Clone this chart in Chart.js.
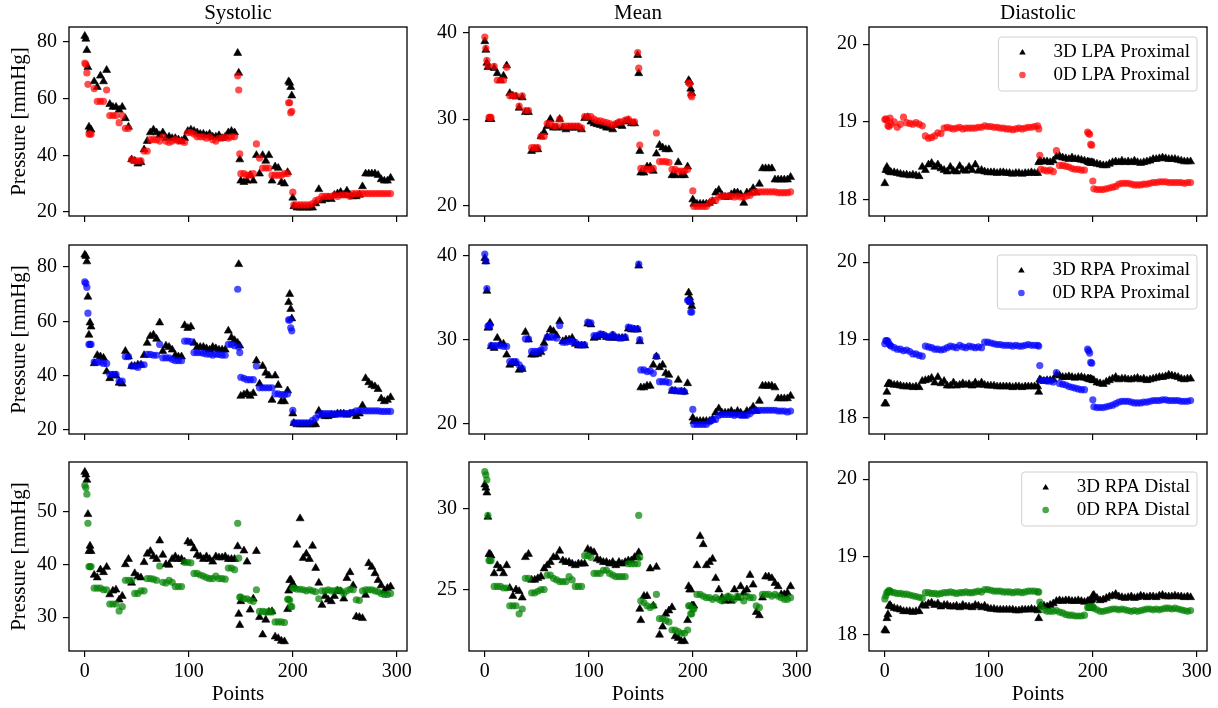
<!DOCTYPE html>
<html>
<head>
<meta charset="utf-8">
<script src="https://cdn.jsdelivr.net/npm/chart.js@4.4.1/dist/chart.umd.min.js"></script>
<style>
    html, body { margin: 0; padding: 0; background: #fff; }
    #fig { position: relative; width: 1218px; height: 708px; overflow: hidden; }
    #fig canvas { position: absolute; }
</style>
</head>
<body>
<div id="fig"></div>
<script>
// x positions (case index) shared by every panel
const points = [
    0, 1, 2, 3, 4, 5, 6,
    9, 12, 15, 18, 21, 24, 27, 30, 33, 36, 39, 42,
    45, 48, 51, 54, 57, 60, 63, 66, 69, 72, 75, 78,
    81, 84, 87, 90, 93, 96, 99, 102, 105, 108, 111, 114,
    117, 120, 123, 126, 129, 132, 135, 138, 141, 144,
    147, 148, 149, 150,
    153, 156, 159, 162, 165, 168, 171, 174, 177, 180, 183, 186, 189, 192, 195,
    196, 197, 198, 199, 200, 201,
    204, 207, 210, 213, 216, 219, 222, 225, 228, 231, 234, 237,
    240, 243, 246, 249, 252, 255, 258, 261, 264, 267, 270, 273,
    276, 279, 282, 285, 288, 291, 294
];

// LPA proximal
const sysLpa3d = [
    82, 81, 77, 71, 50, 49, 49,
    66, 64, 68, 66, 70, 58, 57, 57, 56, 57, 53, 50,
    38.5, 38, 37, 37.5, 42, 45, 48, 49, 48, 47, 48, 46,
    46.5, 46, 46, 45.5, 45, 46, 48.5, 49, 48.5, 48, 47.5, 47.5,
    47, 47.5, 46.5, 46.5, 47, 46, 46.5, 48, 48.5, 48,
    76, 69, 38.5, 31,
    30.5, 31, 33, 31, 40, 33.5, 40, 38, 40, 31, 36, 35.5, 30.5, 30, 34,
    66, 65.5, 64, 61, 25, 22,
    21.5, 21.5, 21.5, 21.5, 21.5, 21.5, 23, 28, 24, 24.5, 25, 24.5,
    26, 26.5, 27, 26, 27.5, 26, 25.5, 25.5, 26, 29, 33.5, 33.5,
    33.5, 33.5, 33, 31.5, 31, 31, 32
];
const sysLpa0d = [
    72.5, 72, 69, 65, 47.5, 47.5, 47.5,
    63.5, 59, 59, 59, 63, 54, 54, 54, 51.5, 54, 49.5, 49.5,
    38.5, 38, 38, 38, 41.5, 41.5, 45.5, 45.5, 45.5, 45, 46.5, 45,
    44.5, 45, 45.5, 45, 45, 44.5, 48, 48, 47.5, 46.5, 46.5, 46.5,
    46, 46.5, 45.5, 45, 46, 46, 46.5, 46, 46.5, 46.5,
    68, 63, 40.5, 33.5,
    33.5, 33, 33, 33.5, 44, 39, 35.5, 35.5, 35.5, 33, 33, 33, 33, 33.5, 33.5,
    58.5, 58.5, 55, 55.5, 27, 22.5,
    22.5, 22.5, 22.5, 22.5, 22.5, 23, 24, 24.5, 25.5, 25.5, 25.5, 25.5,
    26, 25.5, 26, 26, 26, 25.5, 26.5, 26.5, 26.5, 26.5, 26.5, 26.5,
    26.5, 26.5, 26.5, 26.5, 26.5, 26.5, 26.5
];
const meanLpa3d = [
    39, 38, 36.5, 36, 30, 30, 30,
    35.9, 35.3, 34.5, 35, 36.2, 33, 32.7, 32.6, 31.3, 32.5, 30.8, 30.8,
    26.3, 26.5, 26.5, 28, 28.5, 29.2, 30, 29, 29, 30, 29, 28.8,
    29, 29, 29, 29, 28.8, 30.1, 30.2, 29.7, 29.5, 29.4, 29.3, 29.2,
    29, 29, 28.8, 29.3, 29.5, 29.2, 29.7, 29.8, 29.5, 29.5,
    37.4, 35.3, 26.3, 23.8,
    23.8, 24.5, 24.5, 24, 26, 27, 26.7, 26.5, 26.5, 23.5, 23.5, 25, 23.5, 23.5, 24.5,
    34.5, 34.3, 33.5, 33, 20.7, 20.2,
    20.2, 20.2, 20.2, 20.2, 20.3, 20.5, 21.5, 21.8, 21.2, 21, 21, 21.3,
    21.5, 21.5, 21.3, 20.3, 21.5, 21.5, 22, 21.5, 22.5, 24.3, 24.3, 24.3,
    24.3, 23, 23, 23, 23, 23, 23.3
];
const meanLpa0d = [
    39.5, 38.2, 36.8, 36.2, 30.2, 30.2, 30.2,
    36.1, 34.5, 34.5, 34.5, 36, 32.7, 32.7, 32.7, 31.5, 32.7, 31, 31,
    26.7, 26.7, 26.7, 28, 28, 29.5, 29.5, 29.2, 29.2, 30, 29.2, 29.2,
    29.2, 29.2, 29.2, 29.2, 29, 30.3, 30.3, 30.3, 30, 29.8, 29.8, 29.7,
    29.6, 29.5, 29.3, 29.5, 29.7, 29.7, 29.9, 30, 29.7, 29.7,
    37.7, 35.9, 27, 24.3,
    24.3, 24.2, 24.2, 24.3, 28.4, 25.1, 25.1, 25.1, 25, 24.2, 24.2, 24, 24, 24, 24.2,
    34.2, 34.1, 32.8, 32.6, 21.7, 19.9,
    19.9, 19.9, 19.9, 19.9, 20.3, 20.6, 20.6, 21, 21.1, 21.1, 21.1, 21.1,
    21, 21.1, 21, 21, 21.1, 21.2, 21.5, 21.6, 21.6, 21.6, 21.6, 21.6,
    21.6, 21.6, 21.5, 21.5, 21.5, 21.5, 21.6
];
const diaLpa3d = [
    18.21, 18.38, 18.42, 18.38, 18.36, 18.36, 18.35,
    18.35, 18.34, 18.33, 18.32, 18.32, 18.31, 18.32, 18.31, 18.3, 18.42, 18.38, 18.45,
    18.47, 18.42, 18.45, 18.4, 18.38, 18.36, 18.42, 18.37, 18.36, 18.43, 18.38, 18.37,
    18.42, 18.38, 18.45, 18.37, 18.38, 18.36, 18.35, 18.35, 18.35, 18.34, 18.35, 18.35,
    18.34, 18.34, 18.33, 18.34, 18.34, 18.33, 18.34, 18.34, 18.35, 18.34,
    18.34, 18.48, 18.5, 18.49,
    18.49, 18.49, 18.48, 18.5, 18.55, 18.56, 18.54, 18.53, 18.52, 18.54, 18.52, 18.52, 18.51, 18.5, 18.49,
    18.48, 18.48, 18.47, 18.48, 18.47, 18.47,
    18.46, 18.45, 18.44, 18.44, 18.46, 18.48, 18.49, 18.48, 18.5, 18.48, 18.49, 18.48,
    18.5, 18.48, 18.47, 18.48, 18.49, 18.5, 18.52, 18.52, 18.53, 18.54, 18.53, 18.52,
    18.52, 18.52, 18.51, 18.5, 18.49, 18.49, 18.49
];
const diaLpa0d = [
    19.03, 19.04, 19.02, 18.95, 18.94, 19.05, 18.97,
    19.0, 18.93, 18.97, 19.06, 18.99, 18.98, 18.97, 18.99, 18.97, 18.95, 18.82, 18.79,
    18.8, 18.82, 18.86, 18.85, 18.92, 18.93, 18.92, 18.91, 18.92, 18.93, 18.91, 18.92,
    18.92, 18.92, 18.92, 18.93, 18.93, 18.95, 18.94, 18.94, 18.93, 18.93, 18.92, 18.92,
    18.91, 18.91, 18.9, 18.91, 18.92, 18.91, 18.92, 18.93, 18.93, 18.94,
    18.95, 18.91, 18.57, 18.39,
    18.38, 18.37, 18.38, 18.36, 18.63, 18.44, 18.44, 18.43, 18.42, 18.4, 18.39, 18.39, 18.38, 18.38, 18.87,
    18.85, 18.84, 18.71, 18.7, 18.24, 18.14,
    18.13, 18.13, 18.13, 18.14, 18.15, 18.16, 18.17, 18.2, 18.21, 18.21, 18.21, 18.2,
    18.19, 18.19, 18.19, 18.2, 18.2, 18.21, 18.22, 18.22, 18.23, 18.23, 18.23, 18.22,
    18.22, 18.22, 18.22, 18.22, 18.21, 18.22, 18.22
];

// RPA proximal
const sysRpa3d = [
    84.5, 84, 82, 69, 55, 59.5, 58,
    44.5, 47.5, 47, 46.5, 41.5, 39, 40, 40, 37.3, 37, 49, 47,
    43.5, 43.5, 44, 44, 47.5, 52, 54.5, 55, 53.5, 59.5, 49, 51,
    50.5, 49.5, 47.5, 47, 47, 58.5, 57.5, 58, 52, 50.5, 50.5, 50.5,
    50, 49.5, 50.5, 50, 49.5, 49.5, 49.5, 56.5, 54, 53,
    52, 81, 51, 32.5,
    33, 33.5, 32.5, 33.5, 45.5, 37, 43.5, 41, 40, 31, 40, 36.5, 30.5, 30.5, 34.5,
    67, 70, 64.5, 61, 26, 22.5,
    22, 22, 22, 22, 22, 22, 22, 27, 25.5, 25, 25, 25.5,
    25.5, 26, 26, 26, 25.5, 26, 26, 25, 26, 29, 39, 37.5,
    36.5, 36, 35, 31.5, 30.5, 31, 32
];
const sysRpa0d = [
    74.5, 74, 72.5, 63, 51.5, 51.5, 51.5,
    45, 45, 45, 44.5, 44.5, 40.5, 40.5, 40.5, 38, 38, 47, 47,
    43.5, 43.5, 43, 44, 44, 47.8, 47.8, 47.5, 47.5, 51.5, 46.5, 46.5,
    46.5, 46, 45.5, 45.5, 45.5, 52.7, 52.7, 52.5, 48.5, 48.5, 48.5, 48.2,
    48, 48, 47.5, 48, 47.8, 47.5, 47.5, 51.5, 51.5, 51,
    71.8, 50.5, 48.5, 39.4,
    39, 38.5, 38.5, 38.5, 43.5, 35.5, 35.5, 35.5, 35.5, 35.5, 33.3, 33.3, 33, 33, 33.3,
    60.5, 60.5, 57.6, 56.5, 27.2, 22.6,
    22.6, 22.6, 22.6, 22.6, 22.6, 23.5, 24.4, 25.5, 26, 26, 26, 26,
    25.8, 26, 25.8, 26, 26, 26.2, 26.5, 27, 27, 27, 27, 27,
    27, 27, 27, 26.8, 26.8, 26.8, 26.8
];
const meanRpa3d = [
    39.7, 39.3, 35.8, 31.4, 31.5, 32, 29.2,
    29, 30.2, 29.5, 29.5, 28.2, 27, 27.2, 27.2, 26.4, 26.5, 30.9, 30,
    28.2, 28.2, 28.3, 28.5, 29.6, 30.3, 31.2, 31, 30.5, 32.2, 29.8, 30,
    30, 30.2, 29.5, 29.3, 29.3, 29.3, 31.9, 31.8, 30.2, 30.3, 30.5, 30.5,
    30.3, 30.2, 30.5, 30.2, 30.2, 30.2, 30.2, 31.3, 31.2, 31.2,
    31.2, 38.8, 29.8, 24.3,
    24.3, 24.5, 24.5, 27, 28, 26.7, 27, 26, 25.8, 23.9, 23.9, 25.2, 23.8, 23.8, 24.8,
    35.6, 35, 34.5, 34, 20.7, 20.3,
    20.3, 20.3, 20.3, 20.3, 20.3, 20.5, 21.3, 21.8, 21.3, 21.3, 21.3, 21.5,
    21.2, 21.5, 21.3, 21, 21.5, 21.5, 22, 21.5, 22.7, 24.5, 24.5, 24.5,
    24.5, 24.3, 23, 23, 23, 23, 23.3
];
const meanRpa0d = [
    40.2, 39.4, 36.1, 31.6, 31.7, 31.7, 29.3,
    29.3, 29.3, 29.3, 29.2, 29.2, 27.4, 27.4, 27.4, 27, 26.6, 30.1, 30.1,
    28.6, 28.6, 28.6, 28.8, 29, 30.3, 30.3, 30.3, 30.2, 31.7, 29.7, 29.7,
    29.8, 29.8, 29.7, 29.4, 29.4, 29.4, 32.1, 32, 30.5, 30.5, 30.7, 30.6,
    30.4, 30.3, 30.6, 30.3, 30.2, 30.2, 30.3, 31.5, 31.4, 31.3,
    31.3, 39, 30, 26.4,
    26.4, 26.2, 26.3, 26, 28, 25, 25, 25, 24.9, 24, 23.9, 23.9, 23.9, 23.8, 34.7,
    34.7, 34.5, 33.3, 33.3, 21.7, 19.9,
    19.9, 19.9, 19.9, 19.9, 20.2, 20.5, 20.5, 21, 21.1, 21.1, 21.1, 21.1,
    21, 21.1, 21, 21, 21, 21.2, 21.5, 21.6, 21.6, 21.6, 21.6, 21.6,
    21.6, 21.6, 21.5, 21.5, 21.5, 21.4, 21.5
];
const diaRpa3d = [
    18.18, 18.18, 18.33, 18.43, 18.44, 18.43, 18.43,
    18.42, 18.42, 18.41, 18.4, 18.4, 18.4, 18.39, 18.4, 18.39, 18.47, 18.48, 18.49,
    18.51, 18.45, 18.52, 18.44, 18.47, 18.41, 18.41, 18.45, 18.41, 18.42, 18.44, 18.42,
    18.43, 18.41, 18.45, 18.42, 18.45, 18.42, 18.41, 18.41, 18.41, 18.4, 18.4, 18.4,
    18.4, 18.4, 18.39, 18.4, 18.4, 18.39, 18.4, 18.4, 18.4, 18.4,
    18.4, 18.33, 18.49, 18.48,
    18.47, 18.48, 18.48, 18.49, 18.55, 18.54, 18.52, 18.52, 18.53, 18.52, 18.51, 18.52, 18.52, 18.51, 18.5,
    18.5, 18.49, 18.5, 18.49, 18.48, 18.48,
    18.45, 18.44, 18.43, 18.46, 18.48, 18.5, 18.52, 18.49, 18.5, 18.5, 18.49, 18.49,
    18.5, 18.51, 18.49, 18.5, 18.48, 18.49, 18.5, 18.51, 18.52, 18.52, 18.53, 18.55,
    18.54, 18.53, 18.52, 18.5, 18.49, 18.5, 18.5
];
const diaRpa0d = [
    18.95, 18.99, 18.99, 18.98, 18.95, 18.93, 18.92,
    18.9, 18.88, 18.88, 18.86, 18.87, 18.85, 18.82, 18.82, 18.8, 18.79, 18.92, 18.91,
    18.9, 18.88, 18.88, 18.87, 18.88, 18.9, 18.92, 18.91, 18.9, 18.93, 18.91, 18.9,
    18.92, 18.91, 18.9, 18.91, 18.9, 18.97, 18.97, 18.96, 18.95, 18.94, 18.94, 18.93,
    18.93, 18.93, 18.92, 18.93, 18.92, 18.92, 18.93, 18.94, 18.93, 18.93,
    18.93, 18.92, 18.67, 18.48,
    18.48, 18.47, 18.47, 18.46, 18.58, 18.44, 18.43, 18.42, 18.4, 18.39, 18.38, 18.37, 18.36, 18.36, 18.88,
    18.86, 18.83, 18.71, 18.7, 18.23, 18.14,
    18.13, 18.13, 18.13, 18.14, 18.15, 18.16, 18.18, 18.2, 18.21, 18.21, 18.21, 18.2,
    18.19, 18.19, 18.19, 18.2, 18.2, 18.21, 18.22, 18.22, 18.22, 18.23, 18.23, 18.22,
    18.22, 18.22, 18.22, 18.21, 18.21, 18.21, 18.22
];

// RPA distal
const sysDist3d = [
    57.5, 57, 56, 49.5, 42.5, 43.5, 42.5,
    38, 37.5, 39, 38.5, 39.5, 34.3, 35, 35.2, 33.3, 34, 40, 41,
    36.5, 38.3, 37.7, 37.5, 40.4, 42, 42.5, 41.5, 41, 44.5, 41.8, 40,
    39.9, 41, 41.5, 41, 41, 40.5, 44.3, 44, 43, 41.8, 41.5, 41,
    41.5, 41, 40.5, 41.5, 41.3, 41.3, 41.5, 41, 41, 41,
    43.4, 30.6, 28.5, 33,
    42.6, 40.5, 31.4, 33.5, 42.5, 30, 26.7, 29.5, 31, 31.1, 26.3, 26, 25.5, 25.4, 31.5,
    35, 37, 37.1, 36, 36.1, 36,
    43.7, 48.7, 41.2, 42, 41, 43.5, 39.3, 36.5, 32.3, 34, 33.3, 33,
    34, 35, 34.9, 33.5, 37.4, 38.5, 36, 30.1, 30, 29.8, 34.2, 40.2,
    39.5, 38.3, 37, 36, 35, 35.5, 35.8
];
const sysDist0d = [
    55, 54.5, 53.3, 47.8, 39.6, 39.6, 39.6,
    35.5, 35.5, 35.5, 35.2, 35.2, 32.5, 32.5, 32.5, 31.2, 32, 37, 37,
    37, 34.5, 34.5, 35, 35, 37.3, 37.3, 37.2, 37, 39.7, 36.6, 36.5,
    37, 36.6, 35.8, 35.8, 35.8, 40.4, 40.4, 40.3, 38.3, 38.3, 38, 37.8,
    37.5, 37.3, 37.3, 37.8, 37.3, 37.3, 37.2, 39.3, 39.3, 39,
    47.8, 41.2, 33.8, 33.8,
    33.5, 33.5, 33.2, 33, 35.2, 31.1, 31.1, 31, 31, 31, 29.1, 29.1, 29.1, 29, 33.4,
    33.4, 33.2, 32, 32, 35.5, 35.5,
    35.3, 35.3, 35.2, 35, 35.2, 35, 34.8, 33.5, 35, 35, 35.2, 35,
    35, 35.2, 35, 34.5, 35, 35.3, 35.2, 33.3, 33.2, 35, 35.2, 35.2,
    35.2, 35, 34.8, 34.5, 34.3, 34.3, 34.5
];
const meanDist3d = [
    31.5, 31.3, 31, 29.5, 27.2, 27.2, 27.1,
    26, 26.5, 26.3, 26, 26.5, 25.1, 24.6, 25, 24.9, 24.5, 27, 27.2,
    25.6, 25.6, 25.7, 25.8, 26.3, 26.5, 26.7, 27, 27, 27.4, 26.8, 26.7,
    26.7, 26.6, 26.5, 26.6, 26.6, 26.6, 27.5, 27.4, 27.3, 26.9, 26.8, 26.7,
    26.7, 26.6, 26.7, 26.5, 26.7, 26.6, 26.7, 26.8, 26.8, 27,
    27, 27.3, 23.8, 23.1,
    24.6, 24.6, 26.3, 24, 26.4, 22.2, 22.7, 23.5, 23.7, 23.9, 22.1, 22, 21.8, 21.8, 23.1,
    25.2, 25, 25, 24, 24, 24,
    26.5, 28.3, 27.8, 26.5, 26.7, 26.9, 25.7, 25, 24.5, 24.3, 24.5, 24.3,
    25, 24.5, 25.2, 24.8, 25, 25.9, 25.3, 23.6, 23.4, 24.5, 25.8, 25.8,
    25.7, 25.4, 25.2, 24.7, 24.7, 24.8, 25.2
];
const meanDist0d = [
    32.3, 32.1, 31.8, 29.6, 26.8, 26.8, 26.8,
    25.2, 25.2, 25.2, 25.1, 25.1, 24, 24, 24, 23.5, 23.8, 25.7, 25.7,
    24.8, 24.8, 24.9, 25, 25, 25.9, 25.9, 25.7, 25.6, 25.5, 25.5, 25.5,
    25.8, 25.6, 25.2, 25.2, 25.2, 27.1, 27.1, 27, 26, 26, 26, 26.2,
    26.2, 26, 25.9, 25.8, 25.8, 25.8, 25.8, 26.6, 26.6, 26.6,
    26.6, 29.6, 27, 24.3,
    24.2, 24, 23.9, 24, 24.7, 23.2, 23.2, 23.1, 23, 22.5, 22.5, 22.4, 22.3, 22.3, 22.5,
    24, 24, 23.5, 23.5, 23.8, 23.8,
    24.7, 24.7, 24.6, 24.5, 24.5, 24.4, 24.5, 24.4, 24.3, 24.5, 24.6, 24.5,
    24.4, 24.6, 24.5, 24.3, 24.6, 24.5, 24.5, 24, 23.9, 24.7, 24.7, 24.7,
    24.6, 24.7, 24.6, 24.5, 24.4, 24.4, 24.5
];
const diaDist3d = [
    18.06, 18.05, 18.21, 18.26, 18.37, 18.38, 18.36,
    18.34, 18.33, 18.32, 18.3, 18.3, 18.3, 18.29, 18.3, 18.3, 18.38, 18.37, 18.4,
    18.41, 18.38, 18.4, 18.36, 18.38, 18.38, 18.36, 18.36, 18.37, 18.35, 18.38, 18.36,
    18.36, 18.35, 18.38, 18.37, 18.35, 18.37, 18.34, 18.33, 18.33, 18.32, 18.32, 18.32,
    18.32, 18.32, 18.32, 18.31, 18.31, 18.32, 18.32, 18.32, 18.33, 18.32,
    18.31, 18.21, 18.36, 18.37,
    18.37, 18.36, 18.38, 18.4, 18.43, 18.44, 18.43, 18.44, 18.44, 18.43, 18.43, 18.44, 18.43, 18.42, 18.43,
    18.43, 18.43, 18.44, 18.45, 18.5, 18.51,
    18.47, 18.44, 18.45, 18.47, 18.49, 18.5, 18.52, 18.49, 18.48, 18.47, 18.48, 18.49,
    18.47, 18.48, 18.5, 18.49, 18.48, 18.49, 18.49, 18.48, 18.5, 18.51, 18.49, 18.49,
    18.49, 18.5, 18.49, 18.49, 18.48, 18.49, 18.48
];
const diaDist0d = [
    18.46, 18.5, 18.54, 18.55, 18.57, 18.56, 18.55,
    18.54, 18.53, 18.53, 18.52, 18.52, 18.51, 18.5, 18.49, 18.48, 18.47, 18.54, 18.54,
    18.53, 18.53, 18.52, 18.53, 18.54, 18.54, 18.55, 18.54, 18.53, 18.54, 18.54, 18.55,
    18.54, 18.54, 18.55, 18.56, 18.55, 18.58, 18.58, 18.57, 18.56, 18.56, 18.56, 18.55,
    18.55, 18.55, 18.54, 18.55, 18.55, 18.54, 18.55, 18.56, 18.56, 18.56,
    18.55, 18.55, 18.42, 18.36,
    18.32, 18.3, 18.3, 18.3, 18.31, 18.29, 18.28, 18.26, 18.25, 18.25, 18.24, 18.24, 18.24, 18.25, 18.35,
    18.35, 18.36, 18.35, 18.35, 18.36, 18.34,
    18.32, 18.3, 18.3, 18.31, 18.32, 18.33, 18.33, 18.32, 18.33, 18.32, 18.31, 18.3,
    18.31, 18.3, 18.31, 18.32, 18.33, 18.33, 18.32, 18.33, 18.32, 18.33, 18.34, 18.34,
    18.33, 18.34, 18.33, 18.32, 18.31, 18.3, 18.31
];

const xTicks = [0, 100, 200, 300];
const sysTicks = [20, 40, 60, 80];
const meanTicks = [20, 30, 40];
const diaTicks = [18, 19, 20];
const sysDistTicks = [30, 40, 50];
const meanDistTicks = [25, 30];

const columnTitles = ['Systolic', 'Mean', 'Diastolic'];
const legendLpa = ['3D LPA Proximal', '0D LPA Proximal'];
const legendRpa = ['3D RPA Proximal', '0D RPA Proximal'];
const legendDist = ['3D RPA Distal', '0D RPA Distal'];

const RED = 'rgba(255, 0, 0, 0.7)';
const BLUE = 'rgba(0, 0, 255, 0.7)';
const GREEN = 'rgba(0, 128, 0, 0.7)';

const panels = [
    { row: 0, col: 0, y3d: sysLpa3d, y0d: sysLpa0d, color: RED, min: 18.6, max: 85.2, ticks: sysTicks },
    { row: 0, col: 1, y3d: meanLpa3d, y0d: meanLpa0d, color: RED, min: 18.8, max: 40.66, ticks: meanTicks },
    { row: 0, col: 2, y3d: diaLpa3d, y0d: diaLpa0d, color: RED, min: 17.79, max: 20.22, ticks: diaTicks, legend: legendLpa },
    { row: 1, col: 0, y3d: sysRpa3d, y0d: sysRpa0d, color: BLUE, min: 18.5, max: 88.1, ticks: sysTicks },
    { row: 1, col: 1, y3d: meanRpa3d, y0d: meanRpa0d, color: BLUE, min: 18.77, max: 41.28, ticks: meanTicks },
    { row: 1, col: 2, y3d: diaRpa3d, y0d: diaRpa0d, color: BLUE, min: 17.79, max: 20.22, ticks: diaTicks, legend: legendRpa },
    { row: 2, col: 0, y3d: sysDist3d, y0d: sysDist0d, color: GREEN, min: 23.6, max: 59.4, ticks: sysDistTicks },
    { row: 2, col: 1, y3d: meanDist3d, y0d: meanDist0d, color: GREEN, min: 21.2, max: 32.9, ticks: meanDistTicks },
    { row: 2, col: 2, y3d: diaDist3d, y0d: diaDist0d, color: GREEN, min: 17.79, max: 20.22, ticks: diaTicks, legend: legendDist }
];

// plot-area geometry of the 3x3 grid (page pixels)
const plotLeft = [69, 469, 869];
const plotTop = [27, 245, 462];
const plotW = 338, plotH = 189;
const yAxisW = 69, padTop = 27, padRight = 11;

const SERIF = "'Liberation Serif', 'Times New Roman', serif";
Chart.defaults.font.family = SERIF;
Chart.defaults.color = '#000';

// frame, column title and legend box drawn on top of each panel
const panelDecor = {
    id: 'panelDecor',
    afterDraw(chart, args, opts) {
        const ctx = chart.ctx;
        const a = chart.chartArea;
        ctx.save();
        ctx.strokeStyle = '#000';
        ctx.lineWidth = 1.3;
        ctx.strokeRect(a.left, a.top, a.right - a.left, a.bottom - a.top);

        if (opts.title) {
            ctx.fillStyle = '#000';
            ctx.font = '21px ' + SERIF;
            ctx.textAlign = 'center';
            ctx.textBaseline = 'alphabetic';
            ctx.fillText(opts.title, (a.left + a.right) / 2, a.top - 8.5);
        }

        if (opts.legend) {
            ctx.font = '19px ' + SERIF;
            const textW = Math.max(...opts.legend.map(t => ctx.measureText(t).width));
            const w = textW + 62, h = 54;
            const bx = a.right - 10 - w, by = a.top + 10;
            const r = 3;
            ctx.beginPath();
            ctx.moveTo(bx + r, by);
            ctx.lineTo(bx + w - r, by);
            ctx.arcTo(bx + w, by, bx + w, by + r, r);
            ctx.lineTo(bx + w, by + h - r);
            ctx.arcTo(bx + w, by + h, bx + w - r, by + h, r);
            ctx.lineTo(bx + r, by + h);
            ctx.arcTo(bx, by + h, bx, by + h - r, r);
            ctx.lineTo(bx, by + r);
            ctx.arcTo(bx, by, bx + r, by, r);
            ctx.closePath();
            ctx.fillStyle = 'rgba(255,255,255,0.8)';
            ctx.fill();
            ctx.strokeStyle = '#d0d0d0';
            ctx.lineWidth = 1;
            ctx.stroke();

            opts.legend.forEach((label, i) => {
                const mx = bx + 24, my = by + 15.7 + i * 22.3;
                ctx.beginPath();
                if (i === 0) {
                    ctx.moveTo(mx, my - 3.8);
                    ctx.lineTo(mx + 3.3, my + 1.9);
                    ctx.lineTo(mx - 3.3, my + 1.9);
                    ctx.closePath();
                    ctx.fillStyle = '#000';
                } else {
                    ctx.arc(mx, my, 3.3, 0, Math.PI * 2);
                    ctx.fillStyle = opts.color;
                }
                ctx.fill();
                ctx.fillStyle = '#000';
                ctx.textAlign = 'left';
                ctx.textBaseline = 'alphabetic';
                ctx.fillText(label, bx + 55, by + 20.3 + i * 22.3);
            });
        }
        ctx.restore();
    }
};

const fig = document.getElementById('fig');

panels.forEach(p => {
    const bottomRow = p.row === 2;
    const xAxisH = bottomRow ? 57 : 12;
    const canvas = document.createElement('canvas');
    canvas.width = plotW + yAxisW + padRight;
    canvas.height = plotH + padTop + xAxisH;
    canvas.style.left = (plotLeft[p.col] - yAxisW) + 'px';
    canvas.style.top = (plotTop[p.row] - padTop) + 'px';
    fig.appendChild(canvas);

    const tickGrid = {
        drawOnChartArea: false,
        drawTicks: true,
        tickLength: 6,
        color: '#000',
        lineWidth: 1.2
    };

    new Chart(canvas, {
        type: 'scatter',
        data: {
            datasets: [
                {
                    label: p.legend ? p.legend[0] : '3D',
                    data: points.map((x, i) => ({ x, y: p.y3d[i] })),
                    pointStyle: 'triangle',
                    pointRadius: 4.6,
                    backgroundColor: '#000',
                    borderColor: '#000',
                    borderWidth: 0.6,
                    order: 1
                },
                {
                    label: p.legend ? p.legend[1] : '0D',
                    data: points.map((x, i) => ({ x, y: p.y0d[i] })),
                    pointStyle: 'circle',
                    pointRadius: 3.6,
                    backgroundColor: p.color,
                    borderWidth: 0,
                    order: 0
                }
            ]
        },
        options: {
            responsive: false,
            devicePixelRatio: 1,
            animation: false,
            events: [],
            layout: { padding: { left: 0, top: padTop, right: padRight, bottom: 0 } },
            plugins: {
                legend: { display: false },
                tooltip: { enabled: false },
                panelDecor: {
                    title: p.row === 0 ? columnTitles[p.col] : null,
                    legend: p.legend || null,
                    color: p.color
                }
            },
            scales: {
                x: {
                    type: 'linear',
                    min: -15.2,
                    max: 309.8,
                    afterBuildTicks: s => { s.ticks = xTicks.map(v => ({ value: v })); },
                    afterFit: s => { s.height = xAxisH; s.paddingLeft = 0; s.paddingRight = 0; },
                    grid: tickGrid,
                    border: { display: false },
                    ticks: {
                        display: bottomRow,
                        padding: 3,
                        maxRotation: 0,
                        autoSkip: false,
                        color: '#000',
                        font: { size: 20 }
                    },
                    title: {
                        display: bottomRow,
                        text: 'Points',
                        color: '#000',
                        font: { size: 21 },
                        padding: { top: 0, bottom: 1 }
                    }
                },
                y: {
                    type: 'linear',
                    min: p.min,
                    max: p.max,
                    afterBuildTicks: s => { s.ticks = p.ticks.map(v => ({ value: v })); },
                    afterFit: s => { s.width = yAxisW; s.paddingTop = 0; s.paddingBottom = 0; },
                    grid: tickGrid,
                    border: { display: false },
                    ticks: {
                        padding: 6,
                        color: '#000',
                        font: { size: 20 }
                    },
                    title: {
                        display: p.col === 0,
                        text: 'Pressure [mmHg]',
                        color: '#000',
                        font: { size: 21 },
                        padding: { top: 7, bottom: 0 }
                    }
                }
            }
        },
        plugins: [panelDecor]
    });
});
</script>
</body>
</html>
